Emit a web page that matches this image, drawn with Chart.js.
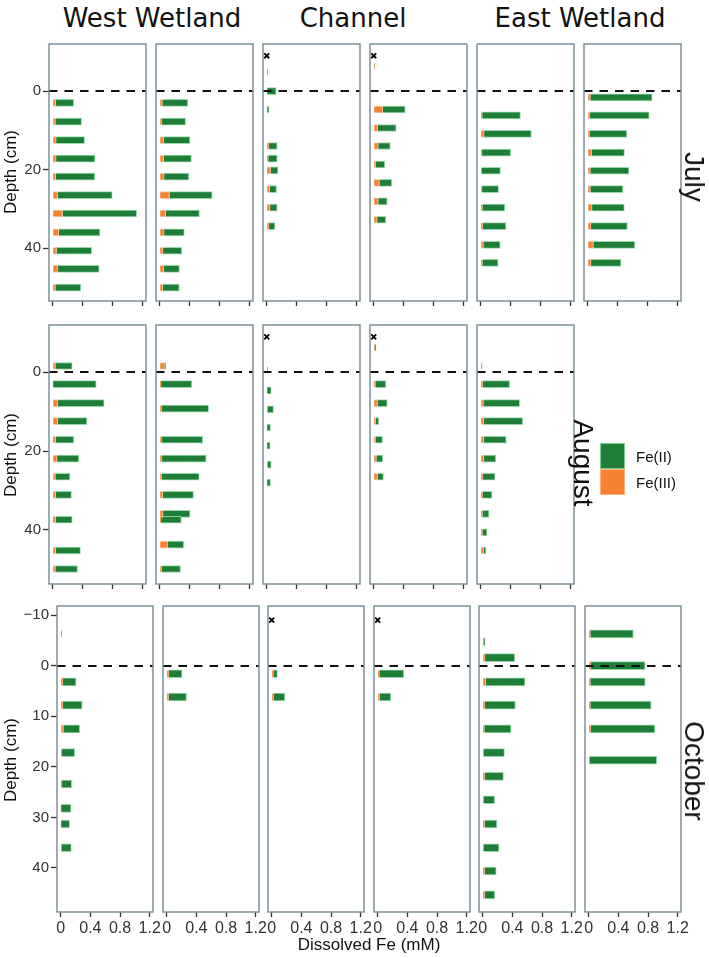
<!DOCTYPE html>
<html>
<head>
<meta charset="utf-8">
<script src="https://cdn.jsdelivr.net/npm/chart.js@4.4.1/dist/chart.umd.min.js"></script>
<style>
  body { margin: 0; background: #fff; }
  #page { position: relative; width: 709px; height: 958px; overflow: hidden; font-family: "Liberation Sans", Arial, sans-serif; color: #111; }
  canvas { position: absolute; }
  .txt { position: absolute; white-space: nowrap; transform: translate(-50%, -50%); line-height: 1; }
  .head { font-family: "DejaVu Sans", sans-serif; font-size: 26px; color: #111; }
  .month { font-size: 28px; }
  .axt { font-size: 17px; }
  .legbox { position: absolute; width: 25px; height: 26px; box-sizing: border-box; }
  .legtxt { position: absolute; font-size: 15px; }
</style>
</head>
<body>
<div id="page"></div>
<script>
// series + labels
const seriesNames = ['Fe(II)', 'Fe(III)'];
const sites = ['West Wetland', 'Channel', 'East Wetland'];
const months = ['July', 'August', 'October'];
const xTicks = [0, 0.4, 0.8, 1.2];
const yTicksSummer = [0, 20, 40];
const yTicksOct = [-10, 0, 10, 20, 30, 40];
const channelCross = [-9];   // "x" marks above the channel cores

// ---- July ----
const julWest1Depth = [3, 7.8, 12.5, 17.2, 21.8, 26.5, 31.2, 36, 40.7, 45.3, 50.1];
const julWest1FeII  = [0.24, 0.35, 0.38, 0.52, 0.52, 0.73, 0.99, 0.55, 0.47, 0.55, 0.34];
const julWest1FeIII = [0.04, 0.035, 0.045, 0.045, 0.04, 0.065, 0.13, 0.08, 0.05, 0.07, 0.035];

const julWest2Depth = [3, 7.8, 12.5, 17.2, 21.8, 26.5, 31.2, 36, 40.7, 45.3, 50.1];
const julWest2FeII  = [0.34, 0.315, 0.35, 0.37, 0.33, 0.57, 0.45, 0.27, 0.25, 0.21, 0.22];
const julWest2FeIII = [0.035, 0.03, 0.053, 0.053, 0.058, 0.13, 0.08, 0.058, 0.044, 0.053, 0.04];

const julChan1Depth = [-4.8, 0, 4.7, 14, 17.2, 20.2, 25, 29.7, 34.4];
const julChan1FeII  = [0.01, 0.12, 0.03, 0.11, 0.12, 0.10, 0.09, 0.095, 0.08];
const julChan1FeIII = [0, 0.005, 0, 0.03, 0.02, 0.05, 0.04, 0.045, 0.03];

const julChan2Depth = [-6.3, 4.7, 9.4, 14, 18.7, 23.4, 28.1, 32.8];
const julChan2FeII  = [0, 0.30, 0.25, 0.16, 0.12, 0.165, 0.12, 0.115];
const julChan2FeIII = [0.015, 0.12, 0.05, 0.06, 0.027, 0.075, 0.06, 0.045];

const julEast1Depth = [6.2, 10.9, 15.7, 20.3, 25, 29.7, 34.4, 39.2, 43.8];
const julEast1FeII  = [0.51, 0.63, 0.38, 0.25, 0.22, 0.30, 0.31, 0.225, 0.21];
const julEast1FeIII = [0.02, 0.045, 0.018, 0.013, 0.018, 0.022, 0.027, 0.035, 0.022];

const julEast2Depth = [1.6, 6.2, 10.9, 15.7, 20.3, 25, 29.7, 34.4, 39.2, 43.8];
const julEast2FeII  = [0.825, 0.79, 0.50, 0.44, 0.515, 0.435, 0.43, 0.485, 0.555, 0.40];
const julEast2FeIII = [0.035, 0.03, 0.022, 0.05, 0.035, 0.035, 0.058, 0.044, 0.075, 0.044];

// ---- August ----
const augWest1Depth = [-1.6, 3.0, 7.8, 12.4, 17.1, 21.9, 26.5, 31.1, 37.4, 45.2, 49.9];
const augWest1FeII  = [0.225, 0.575, 0.62, 0.39, 0.24, 0.29, 0.195, 0.21, 0.22, 0.33, 0.295];
const augWest1FeIII = [0.035, 0.005, 0.066, 0.066, 0.04, 0.058, 0.035, 0.04, 0.04, 0.04, 0.035];

const augWest2Depth = [-1.6, 3.0, 9.2, 17.1, 21.9, 26.5, 31.1, 35.9, 37.4, 43.7, 49.9];
const augWest2FeII  = [0.018, 0.41, 0.63, 0.55, 0.59, 0.50, 0.41, 0.36, 0.27, 0.21, 0.25];
const augWest2FeIII = [0.062, 0.018, 0.022, 0.022, 0.03, 0.027, 0.04, 0.044, 0.018, 0.11, 0.027];

const augChan1Depth = [-0.6, 4.6, 9.4, 14.0, 18.6, 23.4, 28.0];
const augChan1FeII  = [0.01, 0.06, 0.08, 0.05, 0.045, 0.045, 0.05];
const augChan1FeIII = [0, 0, 0.01, 0, 0, 0.015, 0];

const augChan2Depth = [-6.3, 3.0, 7.8, 12.4, 17.1, 21.9, 26.5];
const augChan2FeII  = [0.012, 0.14, 0.13, 0.04, 0.09, 0.085, 0.08];
const augChan2FeIII = [0.015, 0.022, 0.05, 0.027, 0.027, 0.035, 0.05];

const augEast1Depth = [-1.6, 3.0, 7.8, 12.4, 17.1, 21.9, 26.5, 31.1, 35.9, 40.6, 45.2];
const augEast1FeII  = [0, 0.355, 0.485, 0.52, 0.30, 0.16, 0.16, 0.123, 0.088, 0.062, 0.03];
const augEast1FeIII = [0.02, 0.03, 0.035, 0.04, 0.04, 0.04, 0.03, 0.027, 0.022, 0.022, 0.04];

// ---- October ----
const octWest1Depth = [-6.3, 3.2, 7.8, 12.5, 17.2, 23.4, 28.2, 31.3, 36.0];
const octWest1FeII  = [0.01, 0.18, 0.26, 0.22, 0.17, 0.13, 0.135, 0.12, 0.13];
const octWest1FeIII = [0, 0.027, 0.03, 0.036, 0.018, 0.018, 0.005, 0, 0.013];

const octWest2Depth = [1.6, 6.2];
const octWest2FeII  = [0.18, 0.24];
const octWest2FeIII = [0.027, 0.027];

const octChan1Depth = [1.6, 6.2];
const octChan1FeII  = [0.055, 0.15];
const octChan1FeIII = [0.022, 0.027];

const octChan2Depth = [1.6, 6.2];
const octChan2FeII  = [0.33, 0.15];
const octChan2FeIII = [0.022, 0.027];

const octEast1Depth = [-4.7, -1.6, 3.2, 7.8, 12.5, 17.2, 21.9, 26.5, 31.3, 36.0, 40.6, 45.3];
const octEast1FeII  = [0.012, 0.40, 0.53, 0.41, 0.36, 0.28, 0.25, 0.15, 0.165, 0.21, 0.155, 0.135];
const octEast1FeIII = [0.018, 0.032, 0.04, 0.03, 0.022, 0.013, 0.03, 0.01, 0.027, 0.01, 0.027, 0.027];

const octEast2Depth = [-6.3, 0, 3.2, 7.8, 12.5, 18.7];
const octEast2FeII  = [0.58, 0.73, 0.74, 0.82, 0.865, 0.905];
const octEast2FeIII = [0.022, 0.03, 0.022, 0.022, 0.027, 0.013];

const panels = [
  { row: 0, col: 0, depth: julWest1Depth, feII: julWest1FeII, feIII: julWest1FeIII },
  { row: 0, col: 1, depth: julWest2Depth, feII: julWest2FeII, feIII: julWest2FeIII },
  { row: 0, col: 2, depth: julChan1Depth, feII: julChan1FeII, feIII: julChan1FeIII, cross: channelCross },
  { row: 0, col: 3, depth: julChan2Depth, feII: julChan2FeII, feIII: julChan2FeIII, cross: channelCross },
  { row: 0, col: 4, depth: julEast1Depth, feII: julEast1FeII, feIII: julEast1FeIII },
  { row: 0, col: 5, depth: julEast2Depth, feII: julEast2FeII, feIII: julEast2FeIII },
  { row: 1, col: 0, depth: augWest1Depth, feII: augWest1FeII, feIII: augWest1FeIII },
  { row: 1, col: 1, depth: augWest2Depth, feII: augWest2FeII, feIII: augWest2FeIII },
  { row: 1, col: 2, depth: augChan1Depth, feII: augChan1FeII, feIII: augChan1FeIII, cross: channelCross },
  { row: 1, col: 3, depth: augChan2Depth, feII: augChan2FeII, feIII: augChan2FeIII, cross: channelCross },
  { row: 1, col: 4, depth: augEast1Depth, feII: augEast1FeII, feIII: augEast1FeIII },
  { row: 2, col: 0, depth: octWest1Depth, feII: octWest1FeII, feIII: octWest1FeIII },
  { row: 2, col: 1, depth: octWest2Depth, feII: octWest2FeII, feIII: octWest2FeIII },
  { row: 2, col: 2, depth: octChan1Depth, feII: octChan1FeII, feIII: octChan1FeIII, cross: channelCross },
  { row: 2, col: 3, depth: octChan2Depth, feII: octChan2FeII, feIII: octChan2FeIII, cross: channelCross },
  { row: 2, col: 4, depth: octEast1Depth, feII: octEast1FeII, feIII: octEast1FeIII },
  { row: 2, col: 5, depth: octEast2Depth, feII: octEast2FeII, feIII: octEast2FeIII }
];

// layout of the three facet rows
const rows = [
  { top: 44,  bottom: 301, left: 49,   step: 106.9, w: 97,  ymin: -12,   ymax: 53.5, yticks: yTicksSummer, labels: false, bar: 7 },
  { top: 325, bottom: 584, left: 49,   step: 106.9, w: 97,  ymin: -12,   ymax: 53.7, yticks: yTicksSummer, labels: false, bar: 7 },
  { top: 606, bottom: 912, left: 57.3, step: 105.5, w: 96,  ymin: -11.8, ymax: 48.7, yticks: yTicksOct,    labels: true,  bar: 8 }
];

const GREEN = '#1e7d37', ORANGE = '#f7812e';
const FONT = '"Liberation Sans", Arial, sans-serif';
const page = document.getElementById('page');

const panelDeco = {
  id: 'panelDeco',
  afterDatasetsDraw(chart) {
    const { ctx, chartArea: a, scales } = chart;
    const y0 = Math.round(scales.y.getPixelForValue(0));
    ctx.save();
    ctx.setLineDash([8.5, 7]);
    ctx.lineWidth = 2;
    ctx.strokeStyle = '#111';
    ctx.beginPath();
    ctx.moveTo(a.left, y0);
    ctx.lineTo(a.right, y0);
    ctx.stroke();
    ctx.setLineDash([]);
    ctx.strokeStyle = '#7e9099';
    ctx.lineWidth = 1.5;
    ctx.strokeRect(a.left, a.top, a.right - a.left, a.bottom - a.top);
    ctx.restore();
  }
};

const padL = 6, padR = 14, padT = 4;

// keep chart area fixed: labels may spill into the layout padding
function noPad(s) {
  s.paddingTop = 0; s.paddingBottom = 0; s.paddingLeft = 0; s.paddingRight = 0;
}

panels.forEach(p => {
  const r = rows[p.row];
  const pl = Math.round(r.left + p.col * r.step);
  const yW = p.col === 0 ? pl - padL : 0;
  const xH = r.labels ? 26 : 6;
  const cLeft = pl - padL - yW;
  const cW = padL + yW + r.w + padR;
  const cH = padT + (r.bottom - r.top) + xH;

  const canvas = document.createElement('canvas');
  canvas.width = cW;
  canvas.height = cH;
  canvas.style.left = cLeft + 'px';
  canvas.style.top = (r.top - padT) + 'px';
  canvas.style.width = cW + 'px';
  canvas.style.height = cH + 'px';
  page.appendChild(canvas);

  const datasets = [
    {
      label: seriesNames[1],
      data: p.depth.map((d, i) => ({ x: p.feIII[i], y: d })),
      backgroundColor: ORANGE,
      borderColor: 'rgba(252,190,150,0.8)',
      borderWidth: 1,
      barThickness: r.bar
    },
    {
      label: seriesNames[0],
      data: p.depth.map((d, i) => ({ x: p.feII[i], y: d })),
      backgroundColor: GREEN,
      borderColor: 'rgba(140,215,160,0.9)',
      borderWidth: 1,
      barThickness: r.bar
    }
  ];
  if (p.cross) {
    datasets.push({
      type: 'scatter',
      label: 'no data',
      data: p.cross.map(d => ({ x: 0, y: d })),
      pointStyle: 'crossRot',
      radius: 3.5,
      borderColor: '#000',
      backgroundColor: '#000',
      borderWidth: 1.8
    });
  }

  new Chart(canvas, {
    type: 'bar',
    data: { datasets },
    options: {
      indexAxis: 'y',
      responsive: false,
      animation: false,
      layout: { autoPadding: false, padding: { left: padL, right: padR, top: padT, bottom: 0 } },
      plugins: { legend: { display: false }, tooltip: { enabled: false } },
      scales: {
        x: {
          type: 'linear', min: -0.05, max: 1.245, stacked: true, offset: false,
          afterBuildTicks: s => { s.ticks = xTicks.map(v => ({ value: v })); },
          afterFit: s => { s.height = xH; noPad(s); },
          grid: { drawOnChartArea: false, offset: false, tickLength: 5, color: '#333', tickWidth: 1.3 },
          border: { display: false },
          ticks: {
            display: r.labels, padding: 2, autoSkip: false, maxRotation: 0,
            color: '#333', font: { family: FONT, size: 16 },
            callback: v => String(v)
          }
        },
        y: {
          type: 'linear', reverse: true, min: r.ymin, max: r.ymax, stacked: true, offset: false,
          display: p.col === 0,
          afterBuildTicks: s => { s.ticks = r.yticks.map(v => ({ value: v })); },
          afterFit: s => { s.width = yW; noPad(s); },
          grid: { drawOnChartArea: false, offset: false, tickLength: 6, color: '#333', tickWidth: 1.3 },
          border: { display: false },
          ticks: {
            padding: 2, color: '#333', font: { family: FONT, size: 15 },
            callback: v => v < 0 ? '\u2212' + Math.abs(v) : String(v)
          }
        }
      }
    },
    plugins: [panelDeco]
  });
});

// text around the grid
function addText(str, cls, x, y, rot) {
  const el = document.createElement('div');
  el.className = 'txt ' + cls;
  el.textContent = str;
  el.style.left = x + 'px';
  el.style.top = y + 'px';
  if (rot) el.style.transform = 'translate(-50%, -50%) rotate(' + rot + 'deg)';
  page.appendChild(el);
}

addText(sites[0], 'head', 152, 18);
addText(sites[1], 'head', 353, 18);
addText(sites[2], 'head', 580, 18);

addText(months[0], 'month', 694, 177, 90);
addText(months[1], 'month', 583, 463, 90);
addText(months[2], 'month', 694, 771, 90);

[172, 455, 760].forEach(y => addText('Depth (cm)', 'axt', 10, y, -90));
addText('Dissolved Fe (mM)', 'axt', 369, 944);

// legend
[[seriesNames[0], GREEN, 443], [seriesNames[1], ORANGE, 469]].forEach(([name, col, top]) => {
  const b = document.createElement('div');
  b.className = 'legbox';
  b.style.left = '600px';
  b.style.top = top + 'px';
  b.style.background = col;
  b.style.border = '1px solid ' + (col === GREEN ? 'rgba(140,215,160,0.9)' : 'rgba(252,190,150,0.8)');
  page.appendChild(b);
  const t = document.createElement('div');
  t.className = 'legtxt';
  t.textContent = name;
  t.style.left = '636px';
  t.style.top = (top + 5) + 'px';
  page.appendChild(t);
});
</script>
</body>
</html>
